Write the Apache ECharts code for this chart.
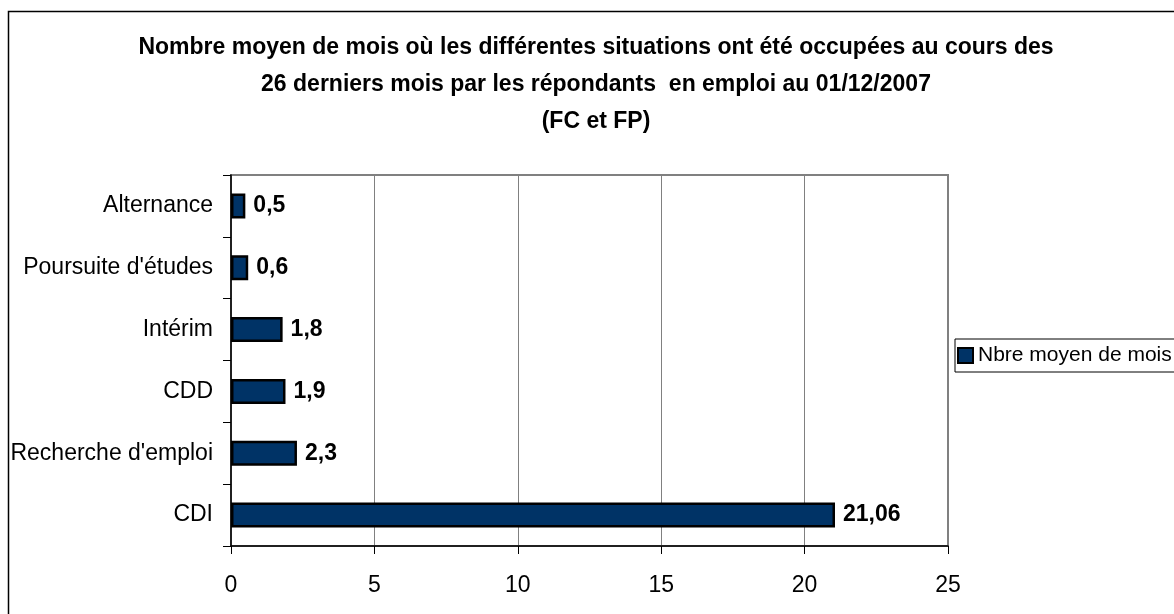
<!DOCTYPE html>
<html>
<head>
<meta charset="utf-8">
<script src="https://cdn.jsdelivr.net/npm/echarts@6/dist/echarts.min.js"></script>
<style>
  html, body { margin: 0; padding: 0; background: #fff; }
  #chart { width: 1174px; height: 614px; }
</style>
</head>
<body>
<div id="chart"></div>
<script>
// categories from bottom to top (category axis starts at the bottom)
var categories = ["CDI", "Recherche d'emploi", "CDD", "Intérim", "Poursuite d'études", "Alternance"];
var moisMoyens = [21.06, 2.3, 1.9, 1.8, 0.6, 0.5];
var titleLines = [
    "Nombre moyen de mois où les différentes situations ont été occupées au cours des",
    "26 derniers mois par les répondants  en emploi au 01/12/2007",
    "(FC et FP)"
];
var seriesName = "Nbre moyen de mois";

var FONT = "'Liberation Sans', Arial, sans-serif";
var FS = 23;

var chart = echarts.init(document.getElementById("chart"), null, { renderer: "canvas" });

chart.setOption({
    backgroundColor: "#fff",
    animation: false,
    textStyle: { fontFamily: FONT },
    graphic: [
        {
            type: "rect",
            shape: { x: 8.5, y: 11.5, width: 1400, height: 800 },
            style: { fill: "none", stroke: "#000", lineWidth: 1.5 },
            silent: true
        },
        {
            type: "text",
            x: 596,
            y: 85,
            style: {
                text: titleLines.join("\n"),
                align: "center",
                verticalAlign: "middle",
                fontFamily: FONT,
                fontSize: FS,
                fontWeight: "bold",
                lineHeight: 37,
                fill: "#000"
            }
        }
    ],
    legend: {
        left: 955,
        top: 339,
        orient: "vertical",
        padding: [6, 6, 6, 2],
        borderColor: "#000",
        borderWidth: 1,
        itemWidth: 15,
        itemHeight: 15,
        icon: "rect",
        textStyle: { fontFamily: FONT, fontSize: 21, color: "#000" },
        data: [seriesName]
    },
    grid: {
        left: 231,
        top: 175,
        right: 226,
        bottom: 68,
        outerBoundsMode: "none",
        containLabel: false,
        show: true,
        borderColor: "#808080",
        borderWidth: 2,
        backgroundColor: "#fff"
    },
    xAxis: {
        type: "value",
        min: 0,
        max: 25,
        interval: 5,
        axisLine: { show: true, lineStyle: { color: "#000", width: 1.5 } },
        axisTick: { show: true, length: 8, lineStyle: { color: "#000" } },
        axisLabel: { margin: 28, fontSize: FS, color: "#000", fontFamily: FONT },
        splitLine: { show: true, lineStyle: { color: "#808080", width: 1 } }
    },
    yAxis: {
        type: "category",
        data: categories,
        axisLine: { show: true, lineStyle: { color: "#000", width: 1.5 } },
        axisTick: { show: true, length: 8, lineStyle: { color: "#000" } },
        axisLabel: { margin: 18, fontSize: FS, color: "#000", fontFamily: FONT },
        splitLine: { show: false }
    },
    series: [
        {
            name: seriesName,
            type: "bar",
            data: moisMoyens,
            barWidth: 25,
            itemStyle: { color: "#003366", borderColor: "#000", borderWidth: 2.5 },
            label: {
                show: true,
                position: "right",
                distance: 8,
                color: "#000",
                fontWeight: "bold",
                fontSize: FS,
                fontFamily: FONT,
                formatter: function (p) { return String(p.value).replace(".", ","); }
            }
        }
    ]
});
</script>
</body>
</html>
